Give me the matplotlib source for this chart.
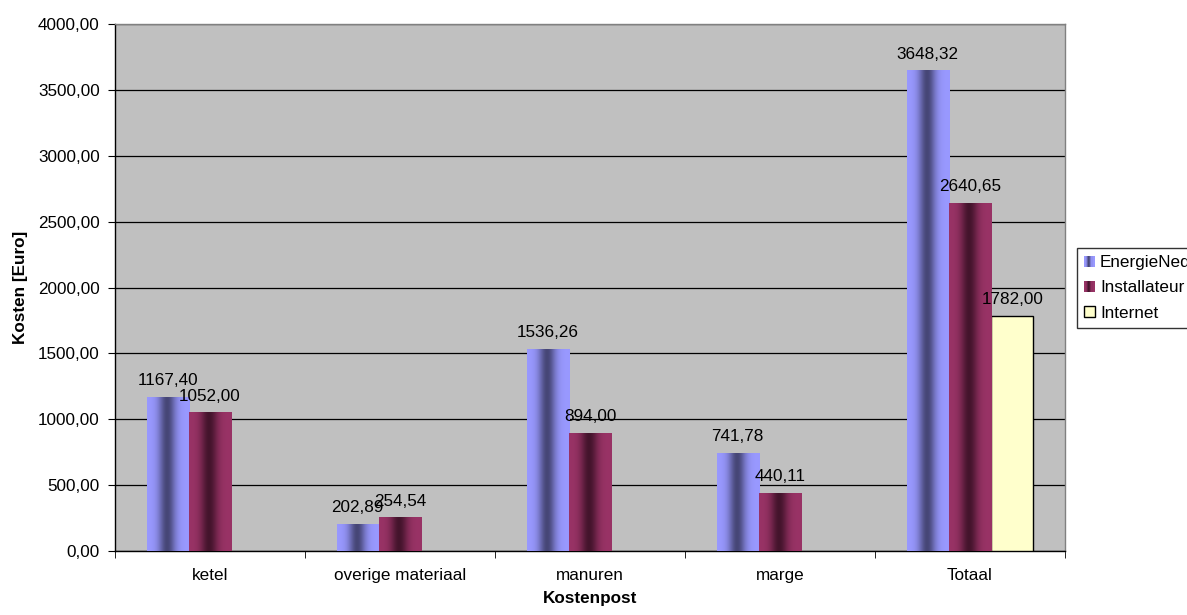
import numpy as np
import matplotlib
matplotlib.use("Agg")
import matplotlib.pyplot as plt
from matplotlib.patches import Rectangle, Patch
from matplotlib.legend_handler import HandlerBase
from matplotlib.ticker import FuncFormatter, MultipleLocator

plt.rcParams['font.family'] = ['Liberation Sans', 'DejaVu Sans']

categories = ["ketel", "overige materiaal", "manuren", "marge", "Totaal"]
series_names = ["EnergieNed", "Installateur", "Internet"]
energiened = [1167.40, 202.89, 1536.26, 741.78, 3648.32]
installateur = [1052.00, 254.54, 894.00, 440.11, 2640.65]
internet = [None, None, None, None, 1782.00]

light_blue = np.array([153, 153, 255]) / 255
dark_blue = np.array([70, 70, 118]) / 255
light_red = np.array([153, 51, 102]) / 255
dark_red = np.array([68, 20, 44]) / 255
yellow = "#FFFFCC"
FS = 12.3


def gradient_row(light, dark, n=64):
    t = np.linspace(0, 1, n)
    d = np.exp(-((t - 0.47) / 0.2) ** 2)
    return light[None, :] * (1 - d[:, None]) + dark[None, :] * d[:, None]


def fmt(v):
    return f"{v:.2f}".replace(".", ",")


fig = plt.figure(figsize=(11.87, 6.15), dpi=100)
ax = fig.add_axes([115 / 1187, 64 / 615, 950 / 1187, 527 / 615])
ax.set_facecolor("#C0C0C0")

x = np.arange(len(categories))
w = 0.2225
series = [(energiened, light_blue, dark_blue), (installateur, light_red, dark_red), (internet, None, None)]
offsets = [-1, 0, 1]

for (vals, light, dark), off in zip(series, offsets):
    xs = [xi + off * w for xi, v in zip(x, vals) if v is not None]
    vs = [v for v in vals if v is not None]
    if light is None:
        bars = ax.bar(xs, vs, width=w, color=yellow, edgecolor="black", linewidth=1, zorder=3)
    else:
        bars = ax.bar(xs, vs, width=w, color=light, edgecolor="none", zorder=3)
        grad = gradient_row(light, dark)[None, :, :]
        for b in bars:
            x0, y0 = b.get_x(), b.get_y()
            im = ax.imshow(grad, extent=(x0, x0 + b.get_width(), y0, y0 + b.get_height()),
                           aspect="auto", interpolation="bilinear", zorder=3.5)
            im.set_clip_path(b)
    for xi, v in zip(xs, vs):
        ax.annotate(fmt(v), (xi, v), xytext=(0, 8.5), textcoords="offset points",
                    ha="center", va="baseline", fontsize=FS, zorder=5)

ax.set_xlim(-0.5, len(categories) - 0.5)
ax.set_ylim(0, 4000)
ax.yaxis.set_major_locator(MultipleLocator(500))
ax.yaxis.set_major_formatter(FuncFormatter(lambda v, p: fmt(v)))
ax.yaxis.grid(True, color="black", linewidth=0.9, zorder=1)
ax.set_axisbelow(True)

ax.set_xticks(x)
ax.set_xticklabels(categories, fontsize=FS)
ax.set_xticks(np.arange(len(categories) + 1) - 0.5, minor=True)
ax.tick_params(axis="x", which="major", length=0, pad=12)
ax.tick_params(axis="x", which="minor", length=5, color="black")
ax.tick_params(axis="y", labelsize=FS, length=5, pad=6)

for s in ["left", "bottom"]:
    ax.spines[s].set_color("black")
    ax.spines[s].set_linewidth(1)
for s in ["top", "right"]:
    ax.spines[s].set_color("#808080")
    ax.spines[s].set_linewidth(1)

ax.set_xlabel("Kostenpost", fontsize=FS, fontweight="bold", labelpad=6)
ax.set_ylabel("Kosten [Euro]", fontsize=FS, fontweight="bold", labelpad=7)


class GradientHandler(HandlerBase):
    def __init__(self, light, dark):
        super().__init__()
        self.light, self.dark = light, dark

    def create_artists(self, legend, orig_handle, xdescent, ydescent, width, height, fontsize, trans):
        n = 10
        cols = gradient_row(self.light, self.dark, n)
        side = height
        x0 = -xdescent + width - side
        arts = []
        for i in range(n):
            r = Rectangle((x0 + i * side / n, -ydescent), side / n + 0.3, side,
                          facecolor=cols[i], edgecolor="none", transform=trans)
            arts.append(r)
        return arts


class SquareHandler(HandlerBase):
    def create_artists(self, legend, orig_handle, xdescent, ydescent, width, height, fontsize, trans):
        side = height
        r = Rectangle((-xdescent + width - side, -ydescent), side, side,
                      facecolor=yellow, edgecolor="black", linewidth=1, transform=trans)
        return [r]


h1 = Patch(label=series_names[0])
h2 = Patch(label=series_names[1])
h3 = Patch(label=series_names[2])
leg = fig.legend(handles=[h1, h2, h3], loc="upper left",
                 bbox_to_anchor=(1077 / 1187, 1 - 248 / 615),
                 handler_map={h1: GradientHandler(light_blue, dark_blue),
                              h2: GradientHandler(light_red, dark_red),
                              h3: SquareHandler()},
                 fontsize=FS, frameon=True, fancybox=False, edgecolor="black",
                 handlelength=0.62, handleheight=0.62, handletextpad=0.3,
                 borderpad=0.42, labelspacing=0.6, borderaxespad=0)
leg.get_frame().set_linewidth(1)

fig.savefig("out.png", dpi=100, facecolor="white")
